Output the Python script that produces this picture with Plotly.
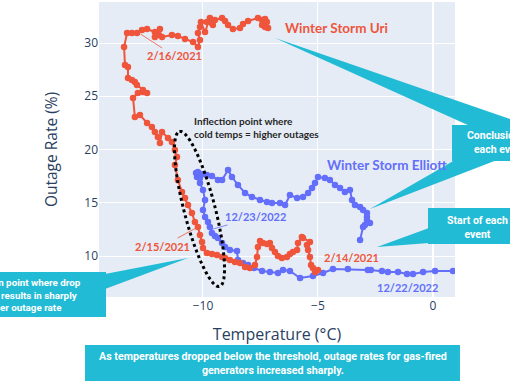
import numpy as np
import plotly.graph_objects as go

# ---------------- data ----------------
uri_temp = [-5.00, -5.13, -5.22, -5.30, -5.35, -5.43, -5.48, -5.35, -5.65, -5.70,
            -5.87, -5.91, -6.09, -6.22, -6.35, -6.57, -6.74, -6.87, -7.00, -7.09,
            -7.22, -7.39, -7.52, -7.61, -7.65, -7.74, -7.96, -8.17, -8.39, -8.61,
            -8.83, -9.04, -9.17, -9.39, -9.61, -9.83, -10.00, -10.04, -10.13, -10.22,
            -10.35, -10.48, -10.65, -10.78, -10.91, -11.09, -11.22, -11.13, -11.22, -11.35,
            -11.52, -11.78, -11.87, -11.96, -12.09, -12.22, -12.43, -12.74, -12.96, -13.04,
            -12.83, -12.61, -12.43, -12.61, -12.87, -12.96, -13.09, -13.26, -13.26, -13.39,
            -13.43, -13.30, -13.09, -12.87, -12.65, -12.43, -12.09, -11.87, -11.91, -12.09,
            -11.78, -11.35, -11.09, -10.78, -10.43, -10.22, -10.13, -10.22, -10.13, -10.09,
            -9.91, -9.70, -9.57, -9.83, -9.61, -9.48, -9.17, -9.04, -8.91, -8.70,
            -8.39, -8.26, -8.04, -7.61, -7.43, -7.30, -7.22, -7.43, -7.30, -7.17]
uri_rate = [8.69, 8.50, 8.87, 9.15, 9.91, 10.56, 11.03, 11.31, 11.69, 11.78,
            11.22, 10.56, 10.38, 10.19, 9.91, 9.81, 10.00, 10.38, 10.75, 11.22,
            11.13, 11.22, 11.41, 10.85, 9.91, 9.15, 8.87, 8.97, 9.34, 9.44,
            9.62, 9.81, 9.91, 10.09, 10.19, 10.28, 10.75, 11.31, 11.97, 12.72,
            13.19, 14.04, 14.79, 15.45, 16.00, 17.14, 18.54, 19.30, 19.95, 20.70,
            21.08, 21.64, 20.61, 21.17, 21.64, 22.11, 22.49, 23.24, 23.05, 24.84,
            25.31, 25.40, 25.31, 25.59, 26.06, 26.34, 26.53, 26.71, 27.75, 27.93,
            29.62, 30.94, 30.94, 30.94, 31.22, 31.31, 31.03, 31.31, 30.75, 30.56,
            30.56, 30.75, 30.66, 30.38, 30.09, 29.62, 30.28, 30.94, 31.50, 31.97,
            31.03, 32.35, 31.69, 31.97, 31.88, 32.16, 32.35, 32.07, 31.69, 31.31,
            31.41, 31.78, 32.07, 32.35, 32.16, 32.25, 31.97, 31.69, 31.50, 31.41]

elliott_temp = [0.87, 0.09, -0.43, -0.87, -1.13, -1.52, -1.96, -2.22, -2.70, -2.83,
                -3.70, -4.35, -4.78, -5.22, -5.78, -6.22, -6.52, -6.74, -7.09, -7.43,
                -7.78, -8.04, -8.26, -8.48, -8.52, -8.83, -9.04, -9.17, -9.35, -9.48,
                -9.61, -9.70, -9.78, -9.91, -10.00, -9.91, -10.00, -10.13, -10.26, -10.30,
                -10.22, -10.13, -10.00, -9.83, -9.61, -9.35, -9.17, -8.91, -8.74, -8.48,
                -8.17, -7.87, -7.52, -7.22, -7.00, -6.65, -6.43, -6.22, -5.91, -5.65,
                -5.43, -5.26, -5.13, -5.00, -4.70, -4.48, -4.26, -4.04, -3.83, -3.61,
                -3.52, -3.39, -3.17, -3.04, -2.87, -2.87, -2.87, -2.74, -2.96, -3.04,
                -3.17]
elliott_rate = [8.59, 8.59, 8.50, 8.31, 8.31, 8.50, 8.50, 8.59, 8.69, 8.69,
                8.78, 8.78, 8.40, 8.12, 7.93, 8.59, 8.69, 8.40, 8.50, 8.59,
                8.87, 9.15, 9.34, 9.62, 10.47, 10.56, 10.85, 11.22, 11.69, 11.88,
                12.16, 12.72, 13.19, 13.66, 14.32, 15.26, 16.20, 16.85, 17.42, 17.79,
                17.89, 17.32, 17.70, 17.61, 17.51, 17.14, 17.14, 18.08, 17.42, 16.67,
                15.92, 15.54, 15.26, 15.07, 14.98, 14.98, 14.79, 15.73, 15.45, 15.54,
                15.92, 16.38, 16.85, 17.42, 17.32, 17.14, 16.67, 16.38, 16.01, 16.20,
                15.26, 14.79, 14.60, 14.32, 14.04, 13.66, 13.38, 13.10, 12.91, 12.72,
                11.50]

series_names = ["Winter Storm Elliott", "Winter Storm Uri"]
x_ticks = [-10, -5, 0]
y_ticks = [10, 15, 20, 25, 30]

# ---------------- layout geometry ----------------
W_FIG, H_FIG = 510, 382
PL, PT, PW, PH = 99, 2, 356, 295          # plot area in pixels
X_RANGE = [-14.52, 0.957]
Y_RANGE = [6.15, 33.85]

BLUE = "#636EFA"
RED = "#EF553B"
TEAL = "#22BBD5"


def P(px, py):
    """pixel -> paper coordinates"""
    return (px - PL) / PW, (PT + PH - py) / PH


def path(points):
    s = ""
    for i, (px, py) in enumerate(points):
        x, y = P(px, py)
        s += ("M" if i == 0 else "L") + f"{x:.4f},{y:.4f} "
    return s + "Z"


fig = go.Figure()
fig.add_trace(go.Scatter(x=elliott_temp, y=elliott_rate, mode="lines+markers",
                         name=series_names[0], line=dict(color=BLUE, width=2),
                         marker=dict(color=BLUE, size=6.5)))
fig.add_trace(go.Scatter(x=uri_temp, y=uri_rate, mode="lines+markers",
                         name=series_names[1], line=dict(color=RED, width=2),
                         marker=dict(color=RED, size=6.5)))

shapes = []
# callout boxes and wedges (pixel geometry)
boxes = [
    [(452, 125), (560, 125), (560, 161), (452, 161)],        # Conclusion
    [(428, 208), (530, 208), (530, 244), (428, 244)],        # Start
    [(-70, 272), (106, 272), (106, 317), (-70, 317)],        # left inflection
    [(85, 345), (460, 345), (460, 381), (85, 381)],          # bottom
]
wedges = [
    [(275, 38), (470, 126), (530, 126)],
    [(370, 209), (455, 160), (497, 160)],
    [(377, 247), (429, 228), (429, 243)],
    [(188, 258), (105, 274), (105, 289)],
]
for w in wedges + boxes:
    shapes.append(dict(type="path", xref="paper", yref="paper", path=path(w),
                       fillcolor=TEAL, line=dict(width=0), layer="above"))

# dotted ellipse (pixel geometry)
cx, cy, a, b, ang = 199.5, 209, 80, 15.5, np.deg2rad(14.5)
t = np.linspace(0, 2 * np.pi, 120)
ex = cx - a * np.cos(t) * np.sin(ang) + b * np.sin(t) * np.cos(ang)
ey = cy - a * np.cos(t) * np.cos(ang) - b * np.sin(t) * np.sin(ang)
ell_path = ""
for i, (px, py) in enumerate(zip(ex, ey)):
    x, y = P(px, py)
    ell_path += ("M" if i == 0 else "L") + f"{x:.4f},{y:.4f} "
ell_path += "Z"
shapes.append(dict(type="path", xref="paper", yref="paper", path=ell_path,
                   line=dict(color="black", width=3, dash="dot"), layer="above"))

annotations = []
LBL = "Lato"


def text_px(txt, px, py, color, size, xanchor="center", align="center", bold=True, family=LBL):
    x, y = P(px, py)
    annotations.append(dict(text=f"<b>{txt}</b>" if bold else txt, x=x, y=y,
                            xref="paper", yref="paper", showarrow=False,
                            xanchor=xanchor, yanchor="middle", align=align,
                            font=dict(family=family, size=size, color=color)))


# series labels
text_px("Winter Storm Uri", 283, 28, RED, 13.5, xanchor="left")
text_px("Winter Storm Elliott", 325, 165, BLUE, 13.5, xanchor="left")
text_px("Inflection point where<br>cold temps = higher outages", 192, 127.5, "#262626", 10,
        xanchor="left", align="left")
text_px("2/14/2021", 351, 257, RED, 11)
text_px("12/22/2022", 407.5, 287, BLUE, 11)


# date labels with thin leader lines
def date_arrow(txt, x, y, ax, ay, color):
    annotations.append(dict(text=f"<b>{txt}</b>", x=x, y=y, xref="x", yref="y",
                            ax=ax, ay=ay, showarrow=True, arrowhead=0, arrowwidth=0.8,
                            arrowcolor=color, standoff=0,
                            font=dict(family=LBL, size=11, color=color)))


date_arrow("2/16/2021", -12.72, 30.85, 34, 22, RED)
date_arrow("2/15/2021", -10.22, 12.72, -35, 19, RED)
date_arrow("12/23/2022", -9.70, 12.45, 46, -13, BLUE)

# callout texts
CF = "Roboto"
text_px("Conclusion of<br>each event", 499, 142.5, "white", 10.5, family=CF)
text_px("Start of each<br>event", 477.5, 227.5, "white", 10.5, family=CF)
text_px("Inflection point where drop<br>in temp results in sharply<br>higher outage rate", 21, 294.5,
        "white", 9.8, family=CF)
text_px("As temperatures dropped below the threshold, outage rates for gas-fired<br>generators increased sharply.",
        273, 363.5, "white", 10.7, family=CF)

fig.update_layout(
    template="plotly",
    width=W_FIG, height=H_FIG,
    margin=dict(l=PL, r=W_FIG - PL - PW, t=PT, b=H_FIG - PT - PH),
    showlegend=False,
    shapes=shapes,
    annotations=annotations,
    xaxis=dict(range=X_RANGE, tickvals=x_ticks, ticktext=["\u221210", "\u22125", "0"],
               title=dict(text="Temperature (°C)", font=dict(size=16))),
    yaxis=dict(range=Y_RANGE, tickvals=y_ticks,
               title=dict(text="Outage Rate (%)", font=dict(size=15.5), standoff=22)),
)

fig.write_html("out.html", config={"displayModeBar": False},
               post_script="document.body.style.margin='0';")
